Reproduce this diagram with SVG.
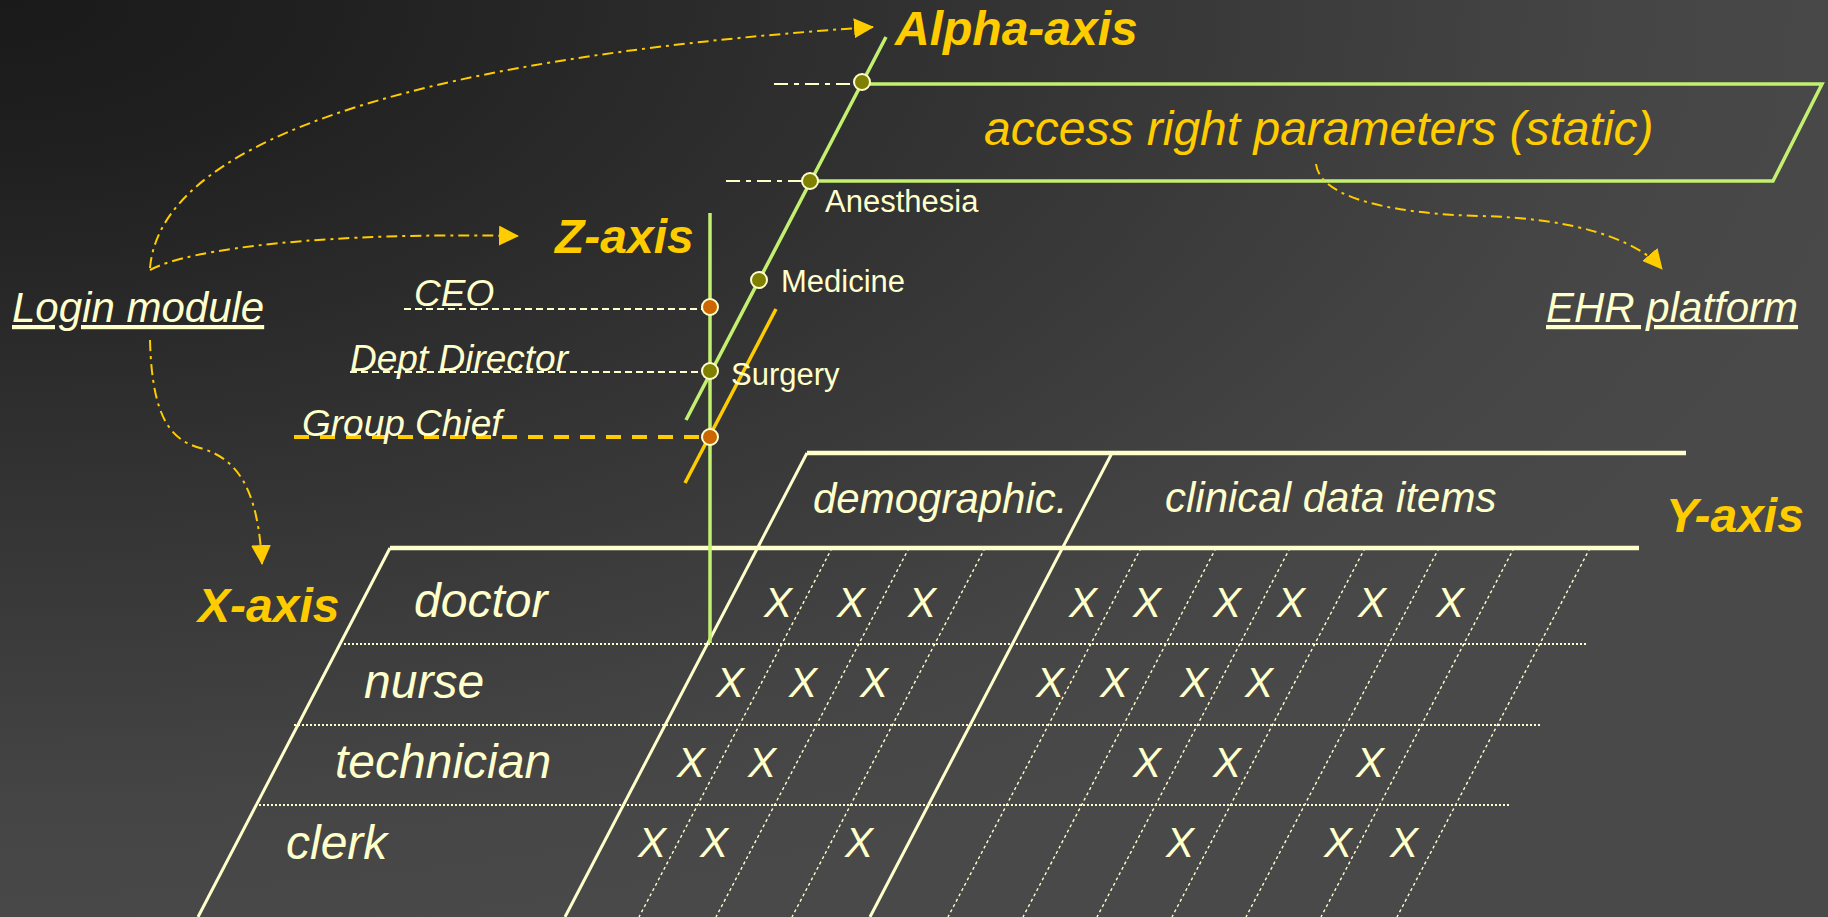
<svg xmlns="http://www.w3.org/2000/svg" width="1828" height="917" viewBox="0 0 1828 917">
<defs>
  <radialGradient id="bg" gradientUnits="userSpaceOnUse" cx="0" cy="0" r="1900" gradientTransform="scale(1 0.5)">
    <stop offset="0" stop-color="#1a1a1a"/>
    <stop offset="0.15" stop-color="#1f1f1f"/>
    <stop offset="0.85" stop-color="#454545"/>
    <stop offset="1" stop-color="#494949"/>
  </radialGradient>
  <marker id="ah" viewBox="0 0 20 20" refX="19" refY="10" markerWidth="20" markerHeight="20" orient="auto" markerUnits="userSpaceOnUse">
    <path d="M0,0 L20,10 L0,20 z" fill="#FFCC00"/>
  </marker>
  <style>
    .axis{font-family:"Liberation Sans",Arial,sans-serif;font-weight:bold;font-style:italic;font-size:48px;fill:#FFCC00}
    .lbl{font-family:"Liberation Sans",Arial,sans-serif;font-style:italic;fill:#FFFFCC}
    .dept{font-family:"Liberation Sans",Arial,sans-serif;font-size:31px;fill:#FFFFCC}
    .role{font-family:"Liberation Sans",Arial,sans-serif;font-style:italic;font-size:37px;fill:#FFFFCC}
    .row{font-family:"Liberation Sans",Arial,sans-serif;font-style:italic;font-size:48px;fill:#FFFFCC}
    .hdr{font-family:"Liberation Sans",Arial,sans-serif;font-style:italic;font-size:42px;fill:#FFFFCC}
    .x{font-family:"Liberation Sans",Arial,sans-serif;font-style:italic;font-size:42px;fill:#FFFFCC;text-anchor:middle}
    .green{stroke:#C4F070;stroke-width:3.5;fill:none}
    .solid{stroke:#FFFFCC;stroke-width:3;fill:none}
    .thick{stroke:#FFFFCC;stroke-width:4.5;fill:none}
    .rowline{stroke:#FFFFCC;stroke-width:2;stroke-dasharray:2 2;fill:none}
    .colline{stroke:#FFFFCC;stroke-width:1.4;stroke-dasharray:3 3;fill:none}
    .conn{stroke:#FFCC00;stroke-width:2;fill:none;stroke-dasharray:11 5 3 5}
    .dashdot{stroke:#FFFFCC;stroke-width:2;fill:none;stroke-dasharray:14 6 5 6}
    .lead{stroke:#FFFFCC;stroke-width:2;fill:none;stroke-dasharray:7 4}
    .lead-y{stroke:#FFCC00;stroke-width:4;fill:none;stroke-dasharray:15 11}
    .dot-o{fill:#808000;stroke:#FFFFCC;stroke-width:2}
    .dot-r{fill:#CC6600;stroke:#FFFFCC;stroke-width:2}
  </style>
</defs>
<rect x="0" y="0" width="1828" height="917" fill="url(#bg)"/>

<g id="table">
  <line class="thick" x1="807" y1="453" x2="1686" y2="453"/>
  <line class="thick" x1="390" y1="548" x2="1639" y2="548"/>
  <line class="solid" x1="390" y1="548" x2="198" y2="917"/>
  <line class="solid" x1="807" y1="453" x2="565" y2="917"/>
  <line class="solid" x1="1112" y1="453" x2="870" y2="917"/>
  <g class="rowlines">
    <line class="rowline" x1="344" y1="644" x2="1588" y2="644"/>
    <line class="rowline" x1="294" y1="725" x2="1541" y2="725"/>
    <line class="rowline" x1="259" y1="805" x2="1509" y2="805"/>
  </g>
  <g class="collines">
    <line class="colline" x1="832" y1="548" x2="639" y2="917"/>
    <line class="colline" x1="909" y1="548" x2="716" y2="917"/>
    <line class="colline" x1="985" y1="548" x2="792" y2="917"/>
    <line class="colline" x1="1141" y1="548" x2="948" y2="917"/>
    <line class="colline" x1="1216" y1="548" x2="1023" y2="917"/>
    <line class="colline" x1="1290" y1="548" x2="1097" y2="917"/>
    <line class="colline" x1="1365" y1="548" x2="1172" y2="917"/>
    <line class="colline" x1="1439" y1="548" x2="1246" y2="917"/>
    <line class="colline" x1="1514" y1="548" x2="1321" y2="917"/>
    <line class="colline" x1="1590" y1="548" x2="1397" y2="917"/>
  </g>
  <text class="hdr" x="813" y="513">demographic.</text>
  <text class="hdr" x="1165" y="512">clinical data items</text>
  <text class="row" x="414" y="617">doctor</text>
  <text class="row" x="364" y="698">nurse</text>
  <text class="row" x="335" y="778">technician</text>
  <text class="row" x="286" y="859">clerk</text>
  <g id="marks">
    <text class="x" x="778" y="617">X</text><text class="x" x="851" y="617">X</text><text class="x" x="922" y="617">X</text>
    <text class="x" x="1083" y="617">X</text><text class="x" x="1147" y="617">X</text><text class="x" x="1227" y="617">X</text>
    <text class="x" x="1291" y="617">X</text><text class="x" x="1372" y="617">X</text><text class="x" x="1450" y="617">X</text>
    <text class="x" x="730" y="697">X</text><text class="x" x="803" y="697">X</text><text class="x" x="874" y="697">X</text>
    <text class="x" x="1050" y="697">X</text><text class="x" x="1114" y="697">X</text><text class="x" x="1194" y="697">X</text>
    <text class="x" x="1259" y="697">X</text>
    <text class="x" x="691" y="777">X</text><text class="x" x="762" y="777">X</text>
    <text class="x" x="1147" y="777">X</text><text class="x" x="1227" y="777">X</text><text class="x" x="1370" y="777">X</text>
    <text class="x" x="652" y="857">X</text><text class="x" x="714" y="857">X</text><text class="x" x="859" y="857">X</text>
    <text class="x" x="1180" y="857">X</text><text class="x" x="1338" y="857">X</text><text class="x" x="1404" y="857">X</text>
  </g>
</g>

<g id="access-right-parameters">
  <polyline class="green" points="862,84 1822,84 1773,181 809,181"/>
  <text x="984" y="145" style="font-family:'Liberation Sans',Arial,sans-serif;font-style:italic;font-size:48px;fill:#FFCC00">access right parameters (static)</text>
</g>

<g id="z-axis">
  <line class="green" x1="710" y1="213" x2="710" y2="643"/>
  <text class="axis" x="555" y="253">Z-axis</text>
</g>

<g id="alpha-axis">
  <line class="green" x1="886" y1="37" x2="686" y2="420"/>
  <text class="axis" x="895" y="45">Alpha-axis</text>
</g>

<g id="group-line">
  <line x1="776" y1="309" x2="685" y2="483" stroke="#FFCC00" stroke-width="3.5"/>
</g>

<g id="x-axis"><text class="axis" x="198" y="622">X-axis</text></g>
<g id="y-axis"><text class="axis" x="1666" y="532">Y-axis</text></g>

<g id="connectors">
  <line class="dashdot" x1="774" y1="84" x2="856" y2="84"/>
  <line class="dashdot" x1="726" y1="181" x2="803" y2="181"/>
  <line class="lead" x1="404" y1="309" x2="703" y2="309"/>
  <line class="lead" x1="350" y1="372" x2="703" y2="372"/>
  <line class="lead-y" x1="294" y1="437" x2="703" y2="437"/>
  <path class="conn" d="M150,268 C160,150 380,60 873,27" marker-end="url(#ah)"/>
  <path class="conn" d="M150,270 C190,248 330,232 518,236" marker-end="url(#ah)"/>
  <path class="conn" d="M150,340 C152,420 172,440 200,448 C236,458 258,486 262,564" marker-end="url(#ah)"/>
  <path class="conn" d="M1316,164 C1320,200 1400,214 1480,216 C1570,218 1636,238 1662,269" marker-end="url(#ah)"/>
</g>

<g id="dot-top"><circle class="dot-o" cx="862" cy="82" r="8"/></g>
<g id="anesthesia">
  <circle class="dot-o" cx="810" cy="181" r="8"/>
  <text class="dept" x="825" y="212">Anesthesia</text>
</g>
<g id="medicine">
  <circle class="dot-o" cx="759" cy="280" r="8"/>
  <text class="dept" x="781" y="292">Medicine</text>
</g>
<g id="surgery">
  <circle class="dot-o" cx="710" cy="371" r="8"/>
  <text class="dept" x="731" y="385">Surgery</text>
</g>
<g id="ceo">
  <circle class="dot-r" cx="710" cy="307" r="8"/>
  <text class="role" x="414" y="306">CEO</text>
</g>
<g id="dept-director">
  <text class="role" x="350" y="371">Dept Director</text>
</g>
<g id="group-chief">
  <circle class="dot-r" cx="710" cy="437" r="8"/>
  <text class="role" x="302" y="436">Group Chief</text>
</g>

<g id="login-module">
  <text class="lbl" x="12" y="322" font-size="42" text-decoration="underline">Login module</text>
</g>
<g id="ehr-platform">
  <text class="lbl" x="1546" y="322" font-size="42" text-decoration="underline">EHR platform</text>
</g>
</svg>
